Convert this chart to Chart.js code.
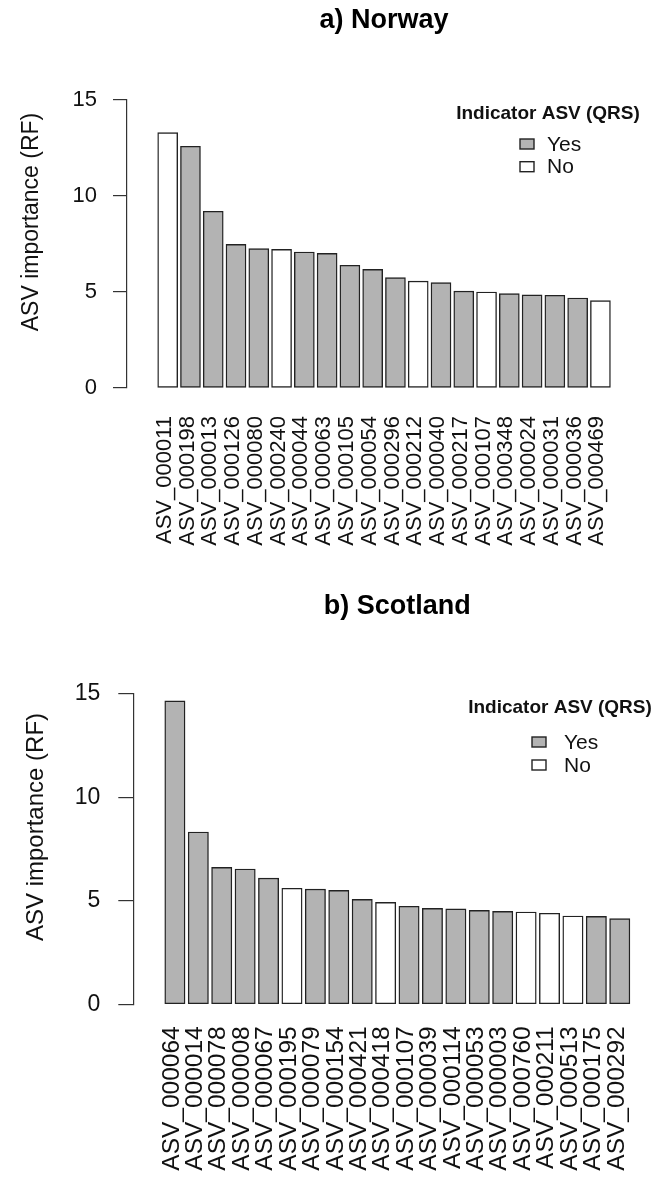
<!DOCTYPE html>
<html>
<head>
<meta charset="utf-8">
<script src="https://cdn.jsdelivr.net/npm/chart.js@4.4.1/dist/chart.umd.min.js"></script>
<style>
    html, body { margin: 0; padding: 0; background: #fff; overflow: hidden; }
    .panel { width: 656px; overflow: hidden; }
    canvas { display: block; }
</style>
</head>
<body>
<div class="panel" style="height:590px"><canvas id="norway-chart" width="656" height="590"></canvas></div>
<div class="panel" style="height:589px"><canvas id="scotland-chart" width="672" height="589"></canvas></div>
<script>
// a) Norway
const NORWAY_LABELS = [
    'ASV_000011', 'ASV_000198', 'ASV_000013', 'ASV_000126', 'ASV_000080',
    'ASV_000240', 'ASV_000044', 'ASV_000063', 'ASV_000105', 'ASV_000054',
    'ASV_000296', 'ASV_000212', 'ASV_000040', 'ASV_000217', 'ASV_000107',
    'ASV_000348', 'ASV_000024', 'ASV_000031', 'ASV_000036', 'ASV_000469'
];
const NORWAY_VALUES = [
    13.28, 12.57, 9.19, 7.47, 7.25, 7.21, 7.07, 7.00, 6.38, 6.17,
    5.74, 5.56, 5.48, 5.04, 4.99, 4.91, 4.84, 4.82, 4.68, 4.54
];
const NORWAY_INDICATOR = [
    'No', 'Yes', 'Yes', 'Yes', 'Yes', 'No', 'Yes', 'Yes', 'Yes', 'Yes',
    'Yes', 'No', 'Yes', 'Yes', 'No', 'Yes', 'Yes', 'Yes', 'Yes', 'No'
];

// b) Scotland
const SCOTLAND_LABELS = [
    'ASV_000064', 'ASV_000014', 'ASV_000078', 'ASV_000008', 'ASV_000067',
    'ASV_000195', 'ASV_000079', 'ASV_000154', 'ASV_000421', 'ASV_000418',
    'ASV_000107', 'ASV_000039', 'ASV_000114', 'ASV_000053', 'ASV_000003',
    'ASV_000760', 'ASV_000211', 'ASV_000513', 'ASV_000175', 'ASV_000292'
];
const SCOTLAND_VALUES = [
    14.67, 8.33, 6.62, 6.54, 6.10, 5.61, 5.57, 5.51, 5.07, 4.93,
    4.74, 4.64, 4.61, 4.54, 4.49, 4.46, 4.40, 4.27, 4.25, 4.14
];
const SCOTLAND_INDICATOR = [
    'Yes', 'Yes', 'Yes', 'Yes', 'Yes', 'No', 'Yes', 'Yes', 'Yes', 'No',
    'Yes', 'Yes', 'Yes', 'Yes', 'Yes', 'No', 'No', 'No', 'Yes', 'Yes'
];

const Y_TICKS = [0, 5, 10, 15];
const LEGEND_TITLE = 'Indicator ASV (QRS)';
const LEGEND_LABELS = ['Yes', 'No'];
const Y_TITLE = 'ASV importance (RF)';

const FILL = { Yes: '#b3b3b3', No: '#ffffff' };
const FONT = '"Liberation Sans", Arial, Helvetica, sans-serif';

Chart.defaults.font.family = FONT;
Chart.defaults.color = '#111';

// y-axis title + legend, drawn on top of the chart
const panelExtras = {
    id: 'panelExtras',
    afterDraw(chart, args, opts) {
        const c = chart.ctx;
        c.save();
        c.fillStyle = '#111';
        c.translate(opts.yTitleX, opts.yTitleY);
        c.rotate(-Math.PI / 2);
        c.font = `${opts.yTitleSize}px ${FONT}`;
        c.textAlign = 'center';
        c.textBaseline = 'middle';
        c.fillText(Y_TITLE, 0, 0);
        c.restore();

        c.save();
        c.fillStyle = '#111';
        c.font = `bold 19px ${FONT}`;
        c.textAlign = 'center';
        c.textBaseline = 'middle';
        c.fillText(LEGEND_TITLE, opts.legendTitleX, opts.legendTitleY);
        c.font = `21px ${FONT}`;
        c.textAlign = 'left';
        LEGEND_LABELS.forEach((lab, i) => {
            const y = opts.itemY + i * opts.itemGap;
            c.fillStyle = FILL[lab];
            c.fillRect(opts.boxX, y - 5, 14, 10);
            c.strokeStyle = '#222';
            c.lineWidth = 1.4;
            c.strokeRect(opts.boxX, y - 5, 14, 10);
            c.fillStyle = '#111';
            c.fillText(lab, opts.textX, y + 1);
        });
        c.restore();
    }
};

function makeChart(id, cfg) {
    const ctx = document.getElementById(id);
    return new Chart(ctx, {
        type: 'bar',
        data: {
            datasets: [{
                data: cfg.values.map((v, i) => ({ x: i, y: v })),
                backgroundColor: cfg.indicator.map(k => FILL[k]),
                borderColor: '#222',
                borderWidth: 1.4,
                borderSkipped: false,
                barThickness: cfg.barWidth
            }]
        },
        options: {
            responsive: false,
            animation: false,
            devicePixelRatio: 1,
            layout: { padding: { left: 0, right: cfg.padRight, top: 0, bottom: 0 } },
            scales: {
                x: {
                    type: 'linear',
                    min: cfg.xMin,
                    max: cfg.xMax,
                    afterBuildTicks: axis => {
                        axis.ticks = cfg.labels.map((_, i) => ({ value: i }));
                    },
                    afterFit: scale => { scale.height = cfg.xAxisHeight; },
                    grid: { display: false, drawTicks: false },
                    border: { display: false },
                    ticks: {
                        autoSkip: false,
                        minRotation: 90,
                        maxRotation: 90,
                        padding: cfg.labelPad,
                        labelOffset: -3,
                        color: '#111',
                        font: { size: cfg.labelSize },
                        callback: v => cfg.labels[v]
                    }
                },
                y: {
                    min: 0,
                    max: 15,
                    afterBuildTicks: axis => {
                        axis.ticks = Y_TICKS.map(v => ({ value: v }));
                    },
                    afterFit: scale => { scale.width = cfg.yAxisWidth; },
                    grid: {
                        drawOnChartArea: false,
                        drawTicks: true,
                        tickLength: cfg.tickLen,
                        color: '#333',
                        lineWidth: 1.2
                    },
                    border: { display: true, color: '#333', width: 1.2 },
                    ticks: {
                        padding: cfg.tickPad,
                        color: '#111',
                        font: { size: cfg.tickSize }
                    }
                }
            },
            plugins: {
                legend: { display: false },
                tooltip: { enabled: false },
                title: {
                    display: true,
                    text: cfg.title,
                    fullSize: false,
                    color: '#000',
                    font: { size: 27, weight: 'bold' },
                    padding: { top: cfg.titleTop, bottom: cfg.titleBottom }
                },
                panelExtras: cfg.extras
            }
        },
        plugins: [panelExtras]
    });
}

makeChart('norway-chart', {
    title: 'a) Norway',
    labels: NORWAY_LABELS,
    values: NORWAY_VALUES,
    indicator: NORWAY_INDICATOR,
    barWidth: 20,
    xMin: -1.222,
    xMax: 20.224,
    padRight: 2.5,
    xAxisHeight: 202,
    yAxisWidth: 127,
    labelPad: 28,
    labelSize: 22,
    tickLen: 14,
    tickPad: 16,
    tickSize: 22,
    titleTop: 4.8,
    titleBottom: 62.3,
    extras: {
        yTitleX: 32, yTitleY: 222, yTitleSize: 23,
        legendTitleX: 548, legendTitleY: 114,
        boxX: 520, textX: 547, itemY: 144, itemGap: 22.7
    }
});

makeChart('scotland-chart', {
    title: 'b) Scotland',
    labels: SCOTLAND_LABELS,
    values: SCOTLAND_VALUES,
    indicator: SCOTLAND_INDICATOR,
    barWidth: 20.3,
    xMin: -1.213,
    xMax: 20.213,
    padRight: 5.2,
    xAxisHeight: 174.7,
    yAxisWidth: 133.3,
    labelPad: 22,
    labelSize: 24.5,
    tickLen: 15,
    tickPad: 18,
    tickSize: 23,
    titleTop: 0.8,
    titleBottom: 70.8,
    extras: {
        yTitleX: 36, yTitleY: 237, yTitleSize: 24,
        legendTitleX: 560, legendTitleY: 118,
        boxX: 532, textX: 564, itemY: 152, itemGap: 23
    }
});
</script>
</body>
</html>
